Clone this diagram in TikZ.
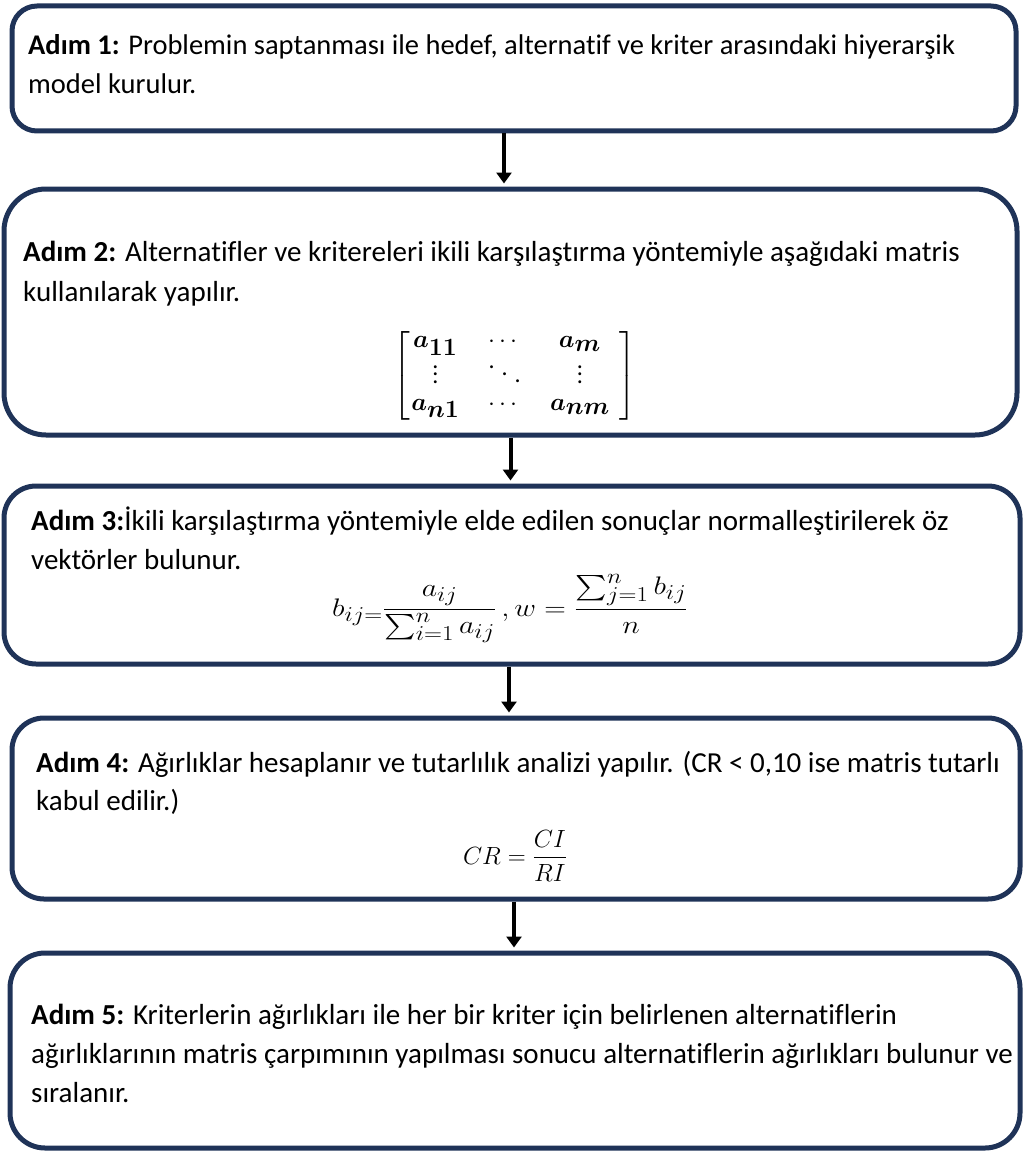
\documentclass[tikz,border=0pt]{standalone}
\usepackage{amsmath,bm}
\usepackage{fontspec}
\setmainfont{Carlito}[Ligatures=NoCommon]
\usetikzlibrary{arrows.meta,calc}
\definecolor{navy}{HTML}{1F3358}
\newcommand{\mydot}{\hbox{\fontsize{24}{24}\selectfont .}}
\newcommand{\myvdots}{\vbox{\baselineskip=7.5pt \lineskiplimit=0pt \kern4pt\mydot\mydot\mydot}}
\newcommand{\myddots}{\mathinner{\mkern1mu\raise15pt\vbox{\kern4pt\mydot}\mkern5mu\raise8pt\mydot\mkern5mu\raise1pt\mydot\mkern1mu}}
\tikzset{
  stepbox/.style={draw=navy, line width=5pt},
  txt/.style={anchor=base west, inner sep=0pt, font=\fontsize{29}{36}\selectfont},
  mth/.style={inner sep=0pt, font=\fontsize{27}{32}\selectfont},
  flow/.style={-{Triangle[width=15pt,length=11pt]}, line width=4pt, black, shorten >=3pt}
}
\begin{document}
\begin{tikzpicture}[x=1pt,y=-1pt]
\useasboundingbox (0,0) rectangle (1023,1153);
% boxes
\node[stepbox, rounded corners=25pt, minimum width=1004pt, minimum height=125pt] (b1) at (514,68.5) {};
\node[stepbox, rounded corners=42pt, minimum width=1013pt, minimum height=246pt] (b2) at (510.5,312) {};
\node[stepbox, rounded corners=32pt, minimum width=1016pt, minimum height=178pt] (b3) at (512,575) {};
\node[stepbox, rounded corners=32pt, minimum width=1008pt, minimum height=181pt] (b4) at (516,808.5) {};
\node[stepbox, rounded corners=35pt, minimum width=1010pt, minimum height=195pt] (b5) at (515,1050.5) {};
% arrows
\draw[flow] ([xshift=-10pt]b1.south) -- ([xshift=-6.5pt]b2.north);
\draw[flow] ([xshift=0pt]b2.south) -- ([xshift=-1.5pt]b3.north);
\draw[flow] ([xshift=-3pt]b3.south) -- ([xshift=-7pt]b4.north);
\draw[flow] ([xshift=-2pt]b4.south) -- ([xshift=-1pt]b5.north);
% box 1
\node[txt, font=\fontsize{28.5}{36}\selectfont] (t1a) at (28,55) {\textbf{Adım 1:} Problemin saptanması ile hedef, alternatif ve kriter arasındaki hiyerarşik};
\node[txt, font=\fontsize{28.5}{36}\selectfont] (t1b) at (28,94) {model kurulur.};
% box 2
\node[txt] (t2a) at (23,261) {\textbf{Adım 2:} Alternatifler ve kritereleri ikili karşılaştırma yöntemiyle aşağıdaki matris};
\node[txt] (t2b) at (23,301) {kullanılarak yapılır.};
\node[inner sep=0pt, font=\fontsize{35}{32}\selectfont, anchor=center] (m2) at (515,376)
  {$\renewcommand{\arraystretch}{0.6}\left[\begin{array}{@{\hspace{1pt}}c@{\hspace{28pt}}c@{\hspace{28pt}}c@{\hspace{10pt}}}
   \bm{a_{11}} & \cdots & \bm{a_{m}} \\[8pt]
   \myvdots & \myddots & \myvdots \\[8pt]
   \bm{a_{n1}} & \cdots & \bm{a_{nm}}
  \end{array}\right]$};
% box 3
\node[txt] (t3a) at (31,530) {\textbf{Adım 3:}İkili karşılaştırma yöntemiyle elde edilen sonuçlar normalleştirilerek öz};
\node[txt] (t3b) at (31,569) {vektörler bulunur.};
\node[mth, anchor=base, font=\fontsize{28}{32}\selectfont] (f3) at (510,616)
  {\scalebox{1.2}[1.02]{$\displaystyle b_{ij=}\frac{a_{ij}}{\sum_{i=1}^{n} a_{ij}}\,, w = \frac{\sum_{j=1}^{n} b_{ij}}{n}$}};
% box 4
\node[txt] (t4a) at (36,772) {\textbf{Adım 4:} Ağırlıklar hesaplanır ve tutarlılık analizi yapılır. (CR < 0,10 ise matris tutarlı};
\node[txt] (t4b) at (36,810) {kabul edilir.)};
\node[mth, anchor=base, font=\fontsize{31}{36}\selectfont] (f4) at (515,864)
  {$\displaystyle CR = \frac{CI}{RI}$};
% box 5
\node[txt] (t5a) at (31,1024) {\textbf{Adım 5:} Kriterlerin ağırlıkları ile her bir kriter için belirlenen alternatiflerin};
\node[txt] (t5b) at (31,1063) {ağırlıklarının matris çarpımının yapılması sonucu alternatiflerin ağırlıkları bulunur ve};
\node[txt] (t5c) at (31,1102) {sıralanır.};
\end{tikzpicture}
\end{document}
